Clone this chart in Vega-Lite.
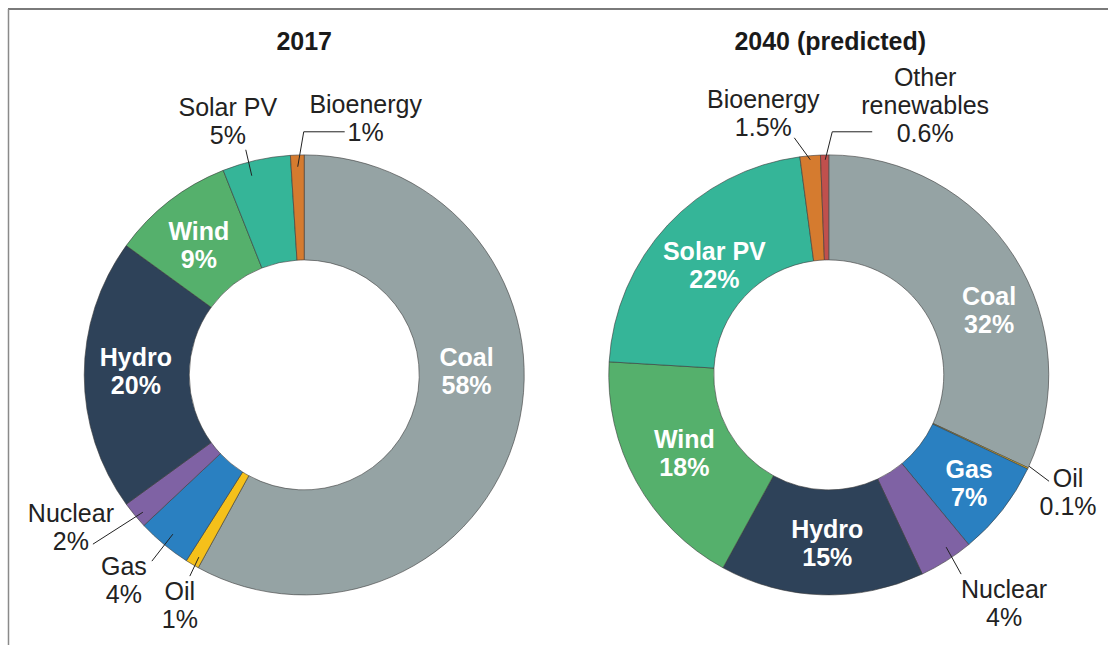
{
  "$schema": "https://vega.github.io/schema/vega-lite/v6.json",
  "width": 1109,
  "height": 646,
  "autosize": {"type": "fit", "contains": "padding"},
  "padding": 0,
  "background": "white",
  "config": {"view": {"stroke": null}, "text": {"font": "Liberation Sans"}},
  "datasets": {
    "shares": [
      {"year": 2017, "source": "Coal", "share": 58, "ord": 1},
      {"year": 2017, "source": "Oil", "share": 1, "ord": 2},
      {"year": 2017, "source": "Gas", "share": 4, "ord": 3},
      {"year": 2017, "source": "Nuclear", "share": 2, "ord": 4},
      {"year": 2017, "source": "Hydro", "share": 20, "ord": 5},
      {"year": 2017, "source": "Wind", "share": 9, "ord": 6},
      {"year": 2017, "source": "Solar PV", "share": 5, "ord": 7},
      {"year": 2017, "source": "Bioenergy", "share": 1, "ord": 8},
      {"year": 2040, "source": "Coal", "share": 32, "ord": 1},
      {"year": 2040, "source": "Oil", "share": 0.1, "ord": 2},
      {"year": 2040, "source": "Gas", "share": 7, "ord": 3},
      {"year": 2040, "source": "Nuclear", "share": 4, "ord": 4},
      {"year": 2040, "source": "Hydro", "share": 15, "ord": 5},
      {"year": 2040, "source": "Wind", "share": 18, "ord": 6},
      {"year": 2040, "source": "Solar PV", "share": 22, "ord": 7},
      {"year": 2040, "source": "Bioenergy", "share": 1.5, "ord": 8},
      {"year": 2040, "source": "Other renewables", "share": 0.6, "ord": 9}
    ],
    "labels": [
      {"year": 2017, "kind": "title", "label": "2017", "lx": 304.5, "ly": 42},
      {"year": 2040, "kind": "title", "label": "2040 (predicted)", "lx": 831, "ly": 42},
      {"year": 2017, "kind": "in", "label": "Coal\n58%", "lx": 467, "ly": 359},
      {"year": 2017, "kind": "in", "label": "Hydro\n20%", "lx": 136, "ly": 359},
      {"year": 2017, "kind": "in", "label": "Wind\n9%", "lx": 199, "ly": 232},
      {"year": 2017, "kind": "out", "label": "Solar PV\n5%", "lx": 228, "ly": 108},
      {"year": 2017, "kind": "out", "label": "Bioenergy\n1%", "lx": 366, "ly": 105},
      {"year": 2017, "kind": "out", "label": "Nuclear\n2%", "lx": 71, "ly": 515},
      {"year": 2017, "kind": "out", "label": "Gas\n4%", "lx": 124, "ly": 568},
      {"year": 2017, "kind": "out", "label": "Oil\n1%", "lx": 180, "ly": 593},
      {"year": 2040, "kind": "in", "label": "Coal\n32%", "lx": 990, "ly": 297},
      {"year": 2040, "kind": "in", "label": "Gas\n7%", "lx": 970, "ly": 471},
      {"year": 2040, "kind": "in", "label": "Hydro\n15%", "lx": 828, "ly": 531},
      {"year": 2040, "kind": "in", "label": "Wind\n18%", "lx": 685, "ly": 441},
      {"year": 2040, "kind": "in", "label": "Solar PV\n22%", "lx": 715, "ly": 252},
      {"year": 2040, "kind": "out", "label": "Bioenergy\n1.5%", "lx": 764, "ly": 100},
      {"year": 2040, "kind": "out", "label": "Other\nrenewables\n0.6%", "lx": 926, "ly": 78},
      {"year": 2040, "kind": "out", "label": "Oil\n0.1%", "lx": 1069, "ly": 480},
      {"year": 2040, "kind": "out", "label": "Nuclear\n4%", "lx": 1005, "ly": 591}
    ],
    "leaders": [
      {"id": "L-solar", "k": 1, "x": 246, "y": 150},
      {"id": "L-solar", "k": 2, "x": 252, "y": 176},
      {"id": "L-bio", "k": 1, "x": 298, "y": 167},
      {"id": "L-bio", "k": 2, "x": 304, "y": 132},
      {"id": "L-bio", "k": 3, "x": 345, "y": 132},
      {"id": "L-nuclear", "k": 1, "x": 93, "y": 545},
      {"id": "L-nuclear", "k": 2, "x": 143, "y": 513},
      {"id": "L-gas", "k": 1, "x": 152, "y": 562},
      {"id": "L-gas", "k": 2, "x": 173, "y": 535},
      {"id": "L-oil", "k": 1, "x": 190, "y": 577},
      {"id": "L-oil", "k": 2, "x": 199, "y": 558},
      {"id": "R-bio", "k": 1, "x": 795, "y": 138},
      {"id": "R-bio", "k": 2, "x": 811, "y": 160},
      {"id": "R-other", "k": 1, "x": 826, "y": 160},
      {"id": "R-other", "k": 2, "x": 833, "y": 132},
      {"id": "R-other", "k": 3, "x": 873, "y": 132},
      {"id": "R-oil", "k": 1, "x": 1030, "y": 467},
      {"id": "R-oil", "k": 2, "x": 1050, "y": 482},
      {"id": "R-nuclear", "k": 1, "x": 947, "y": 548},
      {"id": "R-nuclear", "k": 2, "x": 962, "y": 575}
    ]
  },
  "layer": [
    {
      "data": {"name": "shares"},
      "transform": [{"filter": "datum.year == 2017"}],
      "mark": {"type": "arc", "innerRadius": 115, "outerRadius": 220, "stroke": "#3a3a3a", "strokeWidth": 0.6},
      "encoding": {
        "theta": {"field": "share", "type": "quantitative", "stack": "normalize"},
        "order": {"field": "ord", "type": "quantitative"},
        "color": {"field": "source", "type": "nominal", "legend": null,
          "scale": {"domain": ["Coal", "Oil", "Gas", "Nuclear", "Hydro", "Wind", "Solar PV", "Bioenergy", "Other renewables"],
                    "range": ["#95a3a4", "#f5c01a", "#2a80c1", "#7f62a4", "#2e4259", "#55b06c", "#35b598", "#d57b2f", "#c0504d"]}},
        "x": {"datum": 304.5, "type": "quantitative", "scale": {"domain": [0, 1109], "nice": false, "zero": false}, "axis": null},
        "y": {"datum": 375.5, "type": "quantitative", "scale": {"domain": [0, 646], "nice": false, "zero": false, "reverse": true}, "axis": null}
      }
    },
    {
      "data": {"name": "shares"},
      "transform": [{"filter": "datum.year == 2040"}],
      "mark": {"type": "arc", "innerRadius": 115, "outerRadius": 220, "stroke": "#3a3a3a", "strokeWidth": 0.6},
      "encoding": {
        "theta": {"field": "share", "type": "quantitative", "stack": "normalize"},
        "order": {"field": "ord", "type": "quantitative"},
        "color": {"field": "source", "type": "nominal", "legend": null},
        "x": {"datum": 829.5, "type": "quantitative", "scale": {"domain": [0, 1109], "nice": false, "zero": false}, "axis": null},
        "y": {"datum": 375.5, "type": "quantitative", "scale": {"domain": [0, 646], "nice": false, "zero": false, "reverse": true}, "axis": null}
      }
    },
    {
      "data": {"name": "leaders"},
      "mark": {"type": "line", "color": "#222222", "strokeWidth": 1},
      "encoding": {
        "x": {"field": "x", "type": "quantitative", "scale": {"domain": [0, 1109], "nice": false, "zero": false}, "axis": null},
        "y": {"field": "y", "type": "quantitative", "scale": {"domain": [0, 646], "nice": false, "zero": false, "reverse": true}, "axis": null},
        "detail": {"field": "id", "type": "nominal"},
        "order": {"field": "k", "type": "quantitative"}
      }
    },
    {
      "data": {"name": "labels"},
      "transform": [{"filter": "datum.kind == 'in'"}],
      "mark": {"type": "text", "fontSize": 25, "fontWeight": "bold", "color": "white", "lineBreak": "\n", "lineHeight": 28, "align": "center", "baseline": "middle", "font": "Liberation Sans"},
      "encoding": {
        "x": {"field": "lx", "type": "quantitative", "scale": {"domain": [0, 1109], "nice": false, "zero": false}, "axis": null},
        "y": {"field": "ly", "type": "quantitative", "scale": {"domain": [0, 646], "nice": false, "zero": false, "reverse": true}, "axis": null},
        "text": {"field": "label", "type": "nominal"}
      }
    },
    {
      "data": {"name": "labels"},
      "transform": [{"filter": "datum.kind == 'out'"}],
      "mark": {"type": "text", "fontSize": 25, "fontWeight": "normal", "color": "#222222", "lineBreak": "\n", "lineHeight": 28, "align": "center", "baseline": "middle", "font": "Liberation Sans"},
      "encoding": {
        "x": {"field": "lx", "type": "quantitative", "scale": {"domain": [0, 1109], "nice": false, "zero": false}, "axis": null},
        "y": {"field": "ly", "type": "quantitative", "scale": {"domain": [0, 646], "nice": false, "zero": false, "reverse": true}, "axis": null},
        "text": {"field": "label", "type": "nominal"}
      }
    },
    {
      "data": {"name": "labels"},
      "transform": [{"filter": "datum.kind == 'title'"}],
      "mark": {"type": "text", "fontSize": 25, "fontWeight": "bold", "color": "#1a1a1a", "align": "center", "baseline": "middle", "font": "Liberation Sans"},
      "encoding": {
        "x": {"field": "lx", "type": "quantitative", "scale": {"domain": [0, 1109], "nice": false, "zero": false}, "axis": null},
        "y": {"field": "ly", "type": "quantitative", "scale": {"domain": [0, 646], "nice": false, "zero": false, "reverse": true}, "axis": null},
        "text": {"field": "label", "type": "nominal"}
      }
    },
    {
      "data": {"values": [{}]},
      "mark": {"type": "rule", "color": "#7a7a7a", "strokeWidth": 2},
      "encoding": {
        "x": {"datum": 8, "type": "quantitative", "scale": {"domain": [0, 1109], "nice": false, "zero": false}, "axis": null},
        "x2": {"datum": 1109},
        "y": {"datum": 9, "type": "quantitative", "scale": {"domain": [0, 646], "nice": false, "zero": false, "reverse": true}, "axis": null}
      }
    },
    {
      "data": {"values": [{}]},
      "mark": {"type": "rule", "color": "#8a8a8a", "strokeWidth": 1.5},
      "encoding": {
        "x": {"datum": 8.5, "type": "quantitative", "scale": {"domain": [0, 1109], "nice": false, "zero": false}, "axis": null},
        "y": {"datum": 9, "type": "quantitative", "scale": {"domain": [0, 646], "nice": false, "zero": false, "reverse": true}, "axis": null},
        "y2": {"datum": 646}
      }
    }
  ]
}
